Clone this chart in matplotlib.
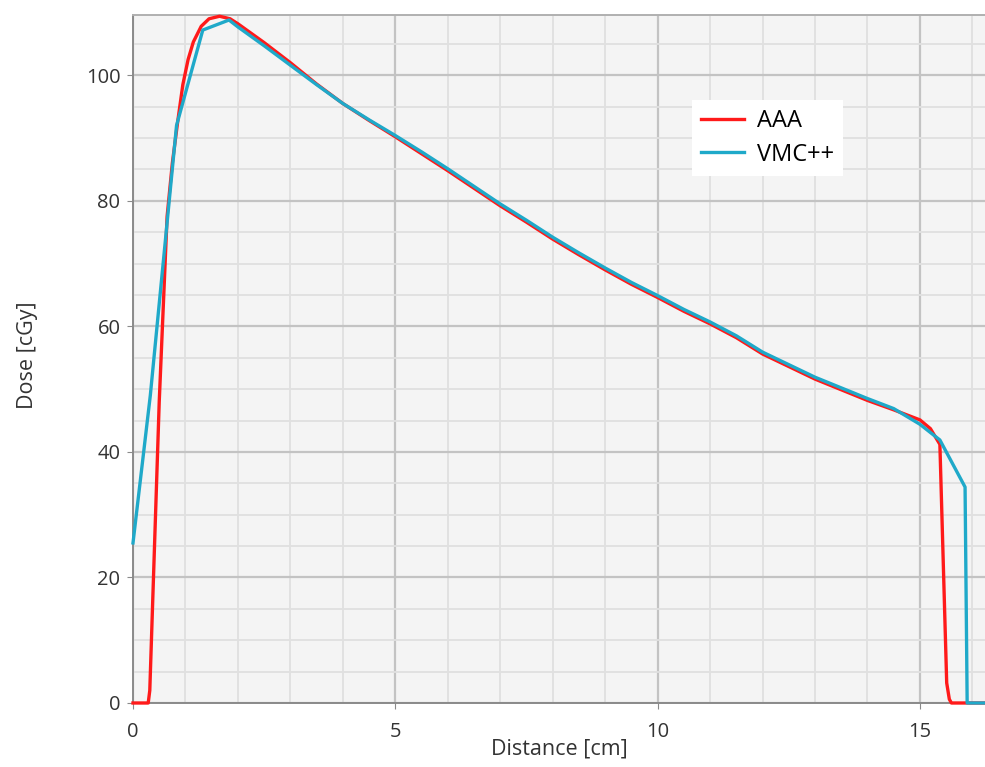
import matplotlib
matplotlib.use("Agg")
import matplotlib.pyplot as plt
from matplotlib.ticker import MultipleLocator

plt.rcParams['font.family'] = ['Open Sans', 'DejaVu Sans']

# depth dose curves
aaa_x = [0, 0.29, 0.32, 0.5, 0.65, 0.75, 0.85, 0.95, 1.05, 1.15, 1.3, 1.45, 1.65, 1.85,
         2.0, 2.5, 3.0, 3.5, 4.0, 4.5, 5.0, 5.5, 6.0, 6.5, 7.0, 7.5, 8.0, 8.5, 9.0,
         9.5, 10.0, 10.5, 11.0, 11.5, 12.0, 12.5, 13.0, 13.5, 14.0, 14.5, 15.0, 15.2,
         15.38, 15.51, 15.56, 15.6, 16.3]
aaa_y = [0, 0, 2, 48, 77.5, 86, 92.5, 98.5, 102.5, 105.3, 107.8, 109.0, 109.4, 109.0,
         108.2, 105.2, 102.0, 98.6, 95.5, 92.8, 90.2, 87.5, 84.8, 82.0, 79.2, 76.6, 73.9,
         71.4, 69.0, 66.7, 64.6, 62.4, 60.4, 58.2, 55.6, 53.6, 51.6, 49.9, 48.2, 46.7,
         45.1, 43.7, 41.2, 3.2, 0.6, 0, 0]

vmc_x = [0, 0.33, 0.83, 1.33, 1.83, 2.0, 2.5, 3.0, 3.5, 4.0, 4.5, 5.0, 5.5, 6.0, 6.5,
         7.0, 7.5, 8.0, 8.5, 9.0, 9.5, 10.0, 10.5, 11.0, 11.5, 12.0, 12.5, 13.0, 13.5,
         14.0, 14.5, 15.0, 15.38, 15.86, 15.9, 16.3]
vmc_y = [25.5, 49, 92, 107.2, 108.8, 107.7, 104.7, 101.6, 98.5, 95.5, 92.9, 90.4, 87.8,
         85.1, 82.3, 79.5, 76.9, 74.2, 71.7, 69.3, 67.0, 64.9, 62.7, 60.7, 58.5, 55.9,
         53.9, 51.9, 50.2, 48.5, 46.9, 44.4, 41.9, 34.4, 0, 0]

fig = plt.figure(figsize=(9.85, 7.67), dpi=100)
ax = fig.add_axes([133 / 985, 64 / 767, 852 / 985, 688 / 767])
ax.set_facecolor('#f4f4f4')

ax.plot(aaa_x, aaa_y, color='#ff1a1a', lw=2.4, label='AAA', clip_on=False, zorder=3)
ax.plot(vmc_x, vmc_y, color='#1fa9c9', lw=2.4, label='VMC++', clip_on=False, zorder=4)

ax.set_xlim(0, 16.24)
ax.set_ylim(0, 109.6)
ax.xaxis.set_major_locator(MultipleLocator(5))
ax.xaxis.set_minor_locator(MultipleLocator(1))
ax.yaxis.set_major_locator(MultipleLocator(20))
ax.yaxis.set_minor_locator(MultipleLocator(5))
ax.grid(which='major', color='#c3c3c3', lw=1.6)
ax.grid(which='minor', color='#e0e0e0', lw=1.3)
ax.set_axisbelow(True)

ax.spines['right'].set_visible(False)
for s in ['left', 'bottom', 'top']:
    ax.spines[s].set_color('#8a8a8a')
    ax.spines[s].set_linewidth(1.4)
ax.spines['top'].set_color('#b0b0b0')

ax.tick_params(which='major', length=4, color='#8a8a8a', labelsize=14.5,
               labelcolor='#333333')
ax.tick_params(which='minor', length=0)
ax.tick_params(axis='x', pad=9.5)
ax.tick_params(axis='y', pad=5)

ax.set_xlabel('Distance [cm]', fontsize=15.5, color='#333333')
ax.set_ylabel('Dose [cGy]', fontsize=15.5, color='#333333')
ax.xaxis.set_label_coords(0.5, -0.052)
ax.yaxis.set_label_coords(-0.112, 0.506)

leg = ax.legend(loc='upper left', bbox_to_anchor=(0.656, 0.877), fontsize=17,
                frameon=True, fancybox=False, framealpha=1, edgecolor='white',
                handlelength=1.8, handletextpad=0.55, borderpad=0.4,
                labelspacing=0.4, borderaxespad=0)
leg.get_frame().set_linewidth(0)

fig.savefig('out.png', dpi=100)
